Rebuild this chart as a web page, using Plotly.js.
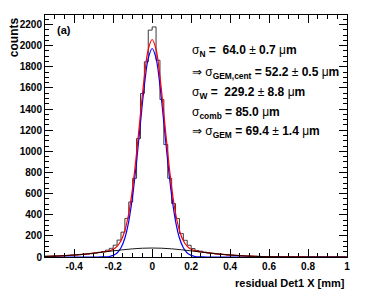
<!DOCTYPE html>
<html>
<head>
<meta charset="utf-8">
<script src="https://cdn.plot.ly/plotly-3.0.1.min.js"></script>
<style>html,body{margin:0;padding:0;background:#fff;}#chart{width:374px;height:295px;}</style>
</head>
<body>
<div id="chart"></div>
<script>
// Histogram: bin centers (bin width 0.02 mm) and counts
var binCenters = [-0.55,-0.53,-0.51,-0.49,-0.47,-0.45,-0.43,-0.41,-0.39,-0.37,-0.35,-0.33,-0.31,-0.29,-0.27,-0.25,-0.23,-0.21,-0.19,-0.17,-0.15,-0.13,-0.11,-0.09,-0.07,-0.05,-0.03,-0.01,
  0.01,0.03,0.05,0.07,0.09,0.11,0.13,0.15,0.17,0.19,0.21,0.23,0.25,0.27,0.29,0.31,0.33,0.35,0.37,0.39,0.41,0.43,0.45,0.47,0.49,0.51,0.53,0.55,0.57,0.59,0.61,0.63,0.65,0.67,0.69,0.71,0.73,0.75,0.77,0.79,0.81,0.83,0.85,0.87,0.89,0.91,0.93,0.95,0.97,0.99];
var counts = [8,9,10,11,12,14,15,18,20,22,25,28,32,38,45,52,65,82,112,160,235,365,521,745,1121,1547,1847,2147,
  2177,1862,1490,1064,745,506,364,222,158,111,80,62,55,46,40,35,30,27,24,20,18,15,13,11,9,8,7,6,5,4,4,3,3,2,2,2,1,1,1,1,1,1,0,1,0,0,0,0,0,0];

// Narrow Gaussian fit (blue)
var narrowX = [-0.55,-0.30,-0.28,-0.26,-0.24,-0.22,-0.20,-0.18,-0.16,-0.14,-0.12,-0.10,-0.08,-0.06,-0.04,-0.02,0,
  0.02,0.04,0.06,0.08,0.10,0.12,0.14,0.16,0.18,0.20,0.22,0.24,0.26,0.28,0.30,1.0];
var narrowY = [0,0,0,0.5,2,5,15,38,87,180,340,582,903,1271,1623,1879,1973,
  1879,1623,1271,903,582,340,180,87,38,15,5,2,0.5,0,0,0];

// Combined fit (red)
var combX = [-0.55,-0.50,-0.45,-0.40,-0.35,-0.30,-0.28,-0.26,-0.24,-0.22,-0.20,-0.18,-0.16,-0.14,-0.12,-0.10,-0.08,-0.06,-0.04,-0.02,0,
  0.02,0.04,0.06,0.08,0.10,0.12,0.14,0.16,0.18,0.20,0.22,0.24,0.26,0.28,0.30,0.35,0.40,0.45,0.50,0.55,0.60,0.65,0.70,0.75,0.80,0.85,0.90,0.95,1.0];
var combY = [4.7,7.8,12.3,18.5,26.4,36,40.3,45.1,51.1,58.6,73,101,154,251,414,659,983,1353,1707,1964,2058,
  1964,1707,1353,983,659,414,251,154,101,73,58.6,51.1,45.1,40.3,36,26.4,18.5,12.3,7.8,4.7,2.7,1.5,0.8,0.4,0.2,0.1,0,0,0];

// Wide Gaussian fit (black)
var wideX = [-0.55,-0.50,-0.45,-0.40,-0.35,-0.30,-0.25,-0.20,-0.15,-0.10,-0.05,0,0.05,0.10,0.15,0.20,0.25,0.30,0.35,0.40,0.45,0.50,0.55,0.60,0.65,0.70,0.75,0.80,0.85,0.90,0.95,1.0];
var wideY = [4.7,7.8,12.3,18.5,26.4,36,46.8,58.1,68.6,77.3,83,85,83,77.3,68.6,58.1,46.8,36,26.4,18.5,12.3,7.8,4.7,2.7,1.5,0.8,0.4,0.2,0.1,0,0,0];

// Tick labels
var xTickVals = [-0.4,-0.2,0,0.2,0.4,0.6,0.8,1];
var xTickText = ["-0.4","-0.2","0","0.2","0.4","0.6","0.8","1"];
var yTickVals = [0,200,400,600,800,1000,1200,1400,1600,1800,2000,2200];
var yTickText = ["0","200","400","600","800","1000","1200","1400","1600","1800","2000","2200"];

// Text
var xTitle = "residual Det1 X [mm]";
var yTitle = "counts";
var panelLabel = "(a)";
var statLines = [
  "σ<sub><b>N</b></sub><b> =  64.0 </b>± <b>0.7 </b>μ<b>m</b>",
  "⇒ σ<sub><b>GEM,cent</b></sub><b> = 52.2 </b>± <b>0.5 </b>μ<b>m</b>",
  "σ<sub><b>W</b></sub><b> =  229.2 </b>± <b>8.8 </b>μ<b>m</b>",
  "σ<sub><b>comb</b></sub><b> = 85.0 </b>μ<b>m</b>",
  "⇒ σ<sub><b>GEM</b></sub><b> = 69.4 </b>± <b>1.4 </b>μ<b>m</b>"
];

var FONT = "Liberation Sans, Arial, Helvetica, sans-serif";

var xMinor = [], yMinor = [];
for (var i = -11; i <= 20; i++) { xMinor.push(Math.round(i*5)/100); }
for (var j = 0; j <= 45; j++) { yMinor.push(j*50); }

var traces = [
  {x: binCenters, y: counts, mode: 'lines', line: {shape: 'hvh', color: '#3a3a3a', width: 1}, hoverinfo: 'skip'},
  {x: narrowX, y: narrowY, mode: 'lines', line: {shape: 'spline', color: '#0000ff', width: 1.2}, hoverinfo: 'skip'},
  {x: combX, y: combY, mode: 'lines', line: {shape: 'spline', color: '#ff0000', width: 1.2}, hoverinfo: 'skip'},
  {x: wideX, y: wideY, mode: 'lines', line: {shape: 'spline', color: '#000000', width: 0.9}, hoverinfo: 'skip'}
];

var annotations = [
  {text: '<b>' + yTitle + '</b>', xref: 'paper', yref: 'paper', x: -0.102, y: 1.0, xanchor: 'center', yanchor: 'top',
   textangle: -90, showarrow: false, font: {family: FONT, size: 12, color: '#000'}},
  {text: '<b>' + xTitle + '</b>', xref: 'paper', yref: 'paper', x: 1.0, y: -0.107, xanchor: 'right', yanchor: 'middle',
   showarrow: false, font: {family: FONT, size: 11, color: '#000'}},
  {text: '<b>' + panelLabel + '</b>', xref: 'paper', yref: 'paper', x: 0.033, y: 0.94, xanchor: 'left', yanchor: 'middle',
   showarrow: false, font: {family: FONT, size: 11, color: '#000'}}
];
var statY = [0.85, 0.76, 0.678, 0.595, 0.517];
for (var k = 0; k < statLines.length; k++) {
  annotations.push({text: statLines[k], xref: 'paper', yref: 'paper', x: 0.48, y: statY[k], xanchor: 'left', yanchor: 'middle',
    showarrow: false, font: {family: FONT, size: 12, color: '#000'}});
}

var layout = {
  width: 374, height: 295,
  margin: {l: 45, r: 27, t: 15, b: 38, pad: 0},
  paper_bgcolor: '#fff', plot_bgcolor: '#fff',
  showlegend: false,
  xaxis: {range: [-0.55, 1.0], tickmode: 'array', tickvals: xTickVals, ticktext: xTickText,
    ticks: 'inside', ticklen: 8, tickwidth: 1, tickcolor: '#000',
    showline: true, linecolor: '#000', linewidth: 1, mirror: 'allticks',
    showgrid: false, zeroline: false,
    tickfont: {family: FONT, size: 10, color: '#000', weight: 'bold'},
    minor: {tickmode: 'array', tickvals: xMinor, ticks: 'inside', ticklen: 4, tickcolor: '#000', showgrid: false}},
  yaxis: {range: [0, 2290], tickmode: 'array', tickvals: yTickVals, ticktext: yTickText,
    ticks: 'inside', ticklen: 8, tickwidth: 1, tickcolor: '#000',
    showline: true, linecolor: '#000', linewidth: 1, mirror: 'allticks',
    showgrid: false, zeroline: false,
    tickfont: {family: FONT, size: 10, color: '#000', weight: 'bold'},
    minor: {tickmode: 'array', tickvals: yMinor, ticks: 'inside', ticklen: 4, tickcolor: '#000', showgrid: false}},
  annotations: annotations
};

Plotly.newPlot('chart', traces, layout, {staticPlot: true, displayModeBar: false});
</script>
</body>
</html>
